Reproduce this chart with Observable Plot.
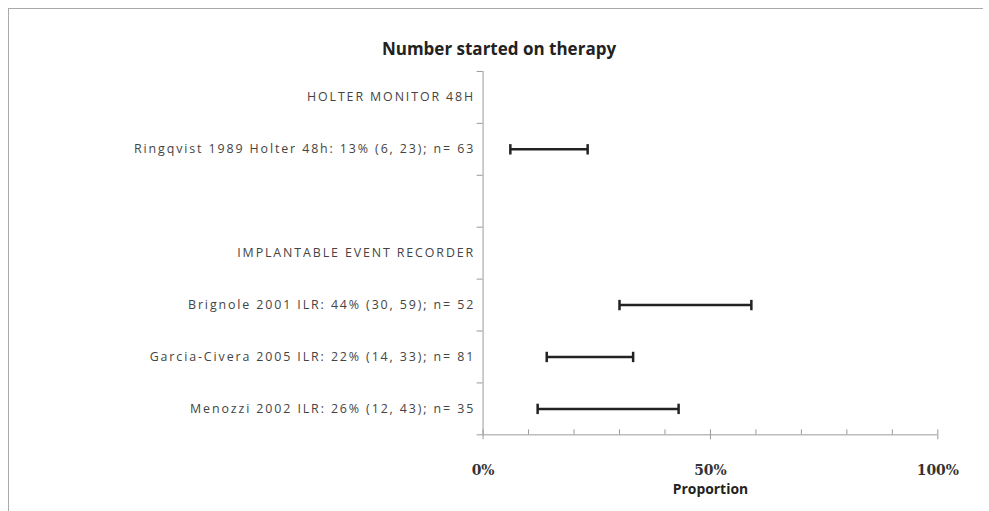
<!DOCTYPE html>
<html><head><meta charset="utf-8">
<script src="https://cdn.jsdelivr.net/npm/d3@7"></script>
<script src="https://cdn.jsdelivr.net/npm/@observablehq/plot@0.6"></script>
<style>
body{margin:0;background:#fff}
#wrap{position:relative;box-sizing:border-box;border-left:1px solid #aaa;border-top:1px solid #aaa;margin-left:8px;margin-top:8px;width:975px;height:503px}
#title{position:absolute;left:0;top:28px;width:980px;text-align:center;font:bold 17px "Open Sans",sans-serif;color:#222}
#chart{position:absolute;left:-8px;top:54px}
#chart g[aria-label="y-axis tick label"] text{letter-spacing:1.9px}
</style></head><body>
<div id="wrap"><div id="title">Number started on therapy</div><div id="chart"></div></div>
<script>
const rows = ['HOLTER MONITOR 48H', 'Ringqvist 1989 Holter 48h: 13% (6, 23); n= 63', '', 'IMPLANTABLE EVENT RECORDER',
  'Brignole 2001 ILR: 44% (30, 59); n= 52', 'Garcia-Civera 2005 ILR: 22% (14, 33); n= 81', 'Menozzi 2002 ILR: 26% (12, 43); n= 35']
const studyRow = [1, 4, 5, 6]
const lower = [6, 30, 14, 12]
const upper = [23, 59, 33, 43]

const ci = studyRow.map((r, i) => ({y: r + 0.5, lo: lower[i], hi: upper[i]}))
const caps = ci.flatMap(d => [{x: d.lo, y1: d.y - 0.1, y2: d.y + 0.1}, {x: d.hi, y1: d.y - 0.1, y2: d.y + 0.1}])
const blank = () => ''

const chart = Plot.plot({
  width: 989, height: 449,
  marginLeft: 485, marginRight: 46, marginTop: 8, marginBottom: 75,
  x: {domain: [0, 100]},
  y: {domain: [7, 0]},
  style: {fontFamily: '"Open Sans", sans-serif'},
  marks: [
    Plot.axisY({ticks: d3.range(0, 8), tickSize: 6, tickFormat: blank, stroke: '#999', label: null}),
    Plot.axisY({ticks: d3.range(7).map(i => i + 0.5), tickSize: 0, tickPadding: 8, tickFormat: v => rows[Math.floor(v)], fontSize: 12.5, fill: '#444', label: null}),
    Plot.ruleY([7], {stroke: '#999'}),
    Plot.ruleX([0], {stroke: '#999'}),
    Plot.axisX({ticks: d3.range(0, 101, 10), tickSize: -5, tickFormat: blank, stroke: '#999', label: null}),
    Plot.axisX({ticks: [0, 50, 100], tickSize: 5, tickPadding: 26, tickFormat: d => d + '%', stroke: '#999', fontSize: 14, fontWeight: 'bold', fill: '#333', fontFamily: '"DejaVu Serif", serif', label: null}),
    Plot.axisX({ticks: [], label: 'Proportion', labelAnchor: 'center', labelArrow: 'none', labelOffset: 60, dx: 36, fontSize: 14, fontWeight: 'bold', fill: '#222'}),
    Plot.link(ci, {x1: 'lo', x2: 'hi', y1: 'y', y2: 'y', stroke: '#222', strokeWidth: 2.5}),
    Plot.link(caps, {x1: 'x', x2: 'x', y1: 'y1', y2: 'y2', stroke: '#222', strokeWidth: 2.5})
  ]
})
d3.select('#chart').append(() => chart)
</script></body></html>
